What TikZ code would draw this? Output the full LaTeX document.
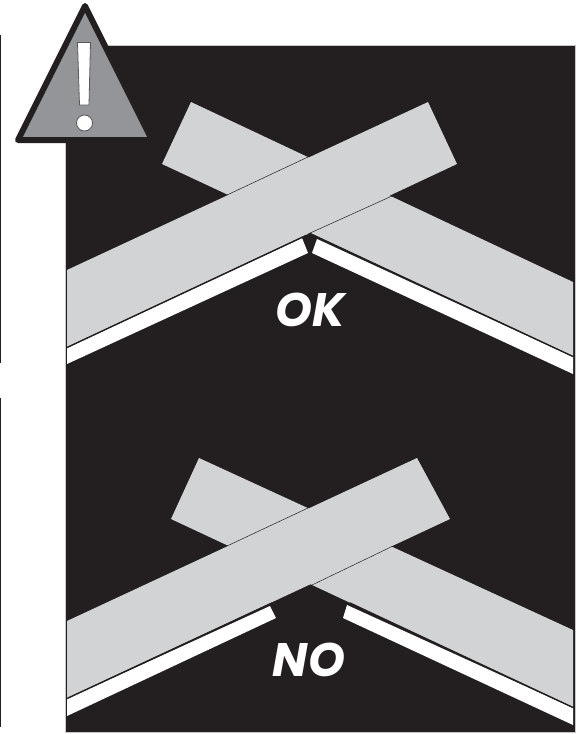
\documentclass[tikz,border=0pt]{standalone}
\usepackage{xcolor}
\usepackage{fontspec}
\setmainfont{Poppins}
\usepackage{tikz}
\definecolor{inkblack}{HTML}{231F20}
\definecolor{bandgray}{HTML}{D1D3D4}
\definecolor{signgray}{HTML}{939598}
\definecolor{halogray}{HTML}{C8C8C8}

\begin{document}
\begin{tikzpicture}[
  x=1pt, y=-1pt,
  panelbox/.style = {fill=inkblack, draw=halogray, line width=0.6pt},
  band/.style     = {fill=bandgray},
  strip/.style    = {fill=white},
  edge/.style     = {draw=inkblack, line width=1.4pt},
  hair/.style     = {draw=inkblack, line width=0.5pt},
  margin/.style   = {draw=inkblack, line width=1.5pt},
  label/.style    = {text=white, inner sep=0pt, font=\fontsize{47}{47}\selectfont\bfseries\itshape}
]
\useasboundingbox (0,0) rectangle (585,734);

% Margin rules and panel
\draw[margin] (0.5,35) -- (0.5,363);
\draw[margin] (0.5,398) -- (0.5,727);
\filldraw[panelbox] (65,45) rectangle (575,732);

% Upper cross
\fill[band] (191,102) -- (162,164) -- (573,356) -- (573,282) -- cycle;
\fill[band] (428,102) -- (457,164) -- (67,347) -- (67,270) -- cycle;
\fill[strip] (67,348) -- (67,364) -- (308,253) -- (302,238) -- cycle;
\fill[strip] (573,357) -- (573,374) -- (312,253) -- (317,239) -- cycle;
\draw[hair] (308,157) -- (227,195);
\draw[hair] (392,196) -- (308,234);
\draw[edge] (67,347.5) -- (306,235.5);
\draw[edge] (573,356.5) -- (310,233.5);

% Lower cross
\fill[band] (199,458) -- (171,519) -- (573,707) -- (573,630) -- cycle;
\fill[band] (417,458) -- (450,519) -- (67,698) -- (67,621) -- cycle;
\fill[strip] (67,699) -- (67,716) -- (276,618) -- (270,606) -- cycle;
\fill[strip] (573,708) -- (573,725) -- (343,618) -- (347,605) -- cycle;
\draw[hair] (308,508) -- (227,546);
\draw[hair] (393,546) -- (312,585);
\draw[edge] (67,698.5) -- (272,603);
\draw[edge] (573,707.5) -- (350,603);

% Labels
\node[label] (ok) at (310,310) {OK};
\node[label] (no) at (309,660) {NO};

% Warning sign
\filldraw[fill=signgray, draw=inkblack, line width=6pt, line join=round]
  (85,6) -- (18,140) -- (152,140) -- cycle;
\filldraw[fill=white, draw=inkblack!75, line width=0.8pt]
  (77.5,42.5) -- (90.5,42.5) -- (89,105) -- (79.5,105) -- cycle;
\filldraw[fill=white, draw=inkblack!75, line width=0.8pt] (84.5,123) circle (8);
\end{tikzpicture}
\end{document}
